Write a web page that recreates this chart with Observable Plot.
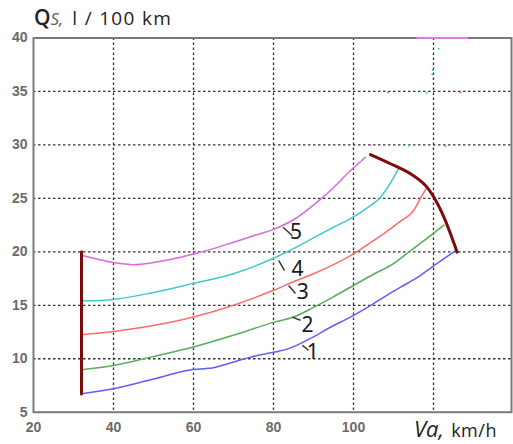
<!DOCTYPE html>
<html>
<head>
<meta charset="utf-8">
<script src="https://cdn.jsdelivr.net/npm/d3@7"></script>
<script src="https://cdn.jsdelivr.net/npm/@observablehq/plot@0.6"></script>
<style>
  html, body { margin: 0; padding: 0; background: #fff; }
  #wrap { position: relative; width: 513px; height: 444px; overflow: hidden; }
  #ytitle { position: absolute; left: 34px; top: 6px; line-height: 22px; font-family: "Open Sans", "Noto Sans", sans-serif; font-size: 19px; color: #222; white-space: nowrap; }
  #ytitle .q { font-weight: 600; font-size: 21px; }
  #ytitle .s { font-style: italic; font-size: 17px; color: #5a6070; margin-right: 9px; }
  #ytitle .u { letter-spacing: 1.3px; }
  #xtitle { position: absolute; left: 414px; top: 417px; line-height: 22px; font-family: "Open Sans", "Noto Sans", sans-serif; color: #222; white-space: nowrap; }
  #xtitle .v { font-style: italic; font-size: 22px; }
  #xtitle .k { font-size: 18px; letter-spacing: 0.5px; margin-left: 3px; }
</style>
</head>
<body>
<div id="wrap">
  <div id="chart"></div>
  <div id="ytitle"><span class="q">Q</span><span class="s">S,</span><span class="u">l / 100 km</span></div>
  <div id="xtitle"><span class="v">Va,</span> <span class="k">km/h</span></div>
</div>
<script>
// ---- data ----
const xTicks = [20, 40, 60, 80, 100];
const yTicks = [5, 10, 15, 20, 25, 30, 35, 40];
const xGrid = [40, 60, 80, 100, 120];
const yGrid = [10, 15, 20, 25, 30, 35];

const curveNames = ["1", "2", "3", "4", "5"];
const curveColors = ["#5f5ff5", "#5aac5a", "#ff6a6a", "#3ecaca", "#d96ad9"];

const s1x = [32, 40, 50, 60, 64, 70, 74.25, 80, 83.4, 89.25, 94, 99.25, 103.5, 107.5, 112, 116, 119.7, 125.5];
const s1y = [6.72, 7.19, 8.1, 9.0, 9.1, 9.7, 10.15, 10.6, 10.9, 11.9, 12.9, 13.9, 14.8, 15.75, 16.75, 17.6, 18.6, 20.1];

const s2x = [32, 40, 49.25, 60, 70, 80, 85, 90, 95, 100, 105, 110, 114.25, 118.5, 122.6];
const s2y = [8.97, 9.37, 10.15, 11.1, 12.2, 13.4, 13.9, 14.8, 15.8, 16.85, 17.9, 18.9, 20.1, 21.3, 22.5];

const s3x = [32, 40, 50, 60, 70, 80, 85, 90, 95, 100, 104, 107.6, 111.5, 115.1, 116.75, 118.4];
const s3y = [12.25, 12.55, 13.1, 13.9, 15.0, 16.4, 17.2, 17.95, 18.8, 19.8, 20.8, 21.7, 22.8, 23.9, 25.0, 26.05];

const s4x = [32, 40, 50, 60, 70, 80, 85, 90.9, 95, 99.25, 103, 106.75, 108.5, 110.1, 111.3];
const s4y = [15.4, 15.55, 16.2, 17.05, 17.95, 19.4, 20.3, 21.5, 22.3, 23.1, 24.0, 25.1, 26.0, 27.0, 27.8];

const s5x = [32.2, 36, 40, 45, 50, 55, 60, 65, 70, 75, 80, 85, 90.9, 95, 99.25, 103];
const s5y = [19.65, 19.3, 19.0, 18.8, 19.0, 19.35, 19.8, 20.3, 20.9, 21.5, 22.1, 23.0, 24.65, 26.0, 27.6, 28.85];

// boundary lines (dark red)
const limitLowX = [32, 32];
const limitLowY = [6.7, 20.0];
const limitHighX = [104.25, 109.25, 114.25, 118, 120.1, 122.6, 125.9];
const limitHighY = [29.1, 28.24, 27.3, 26.2, 25.1, 23.24, 19.97];

// magenta fragment along the top border
const topSegX = [116, 128.5];
const topSegY = [40, 40];

// stray coloured specks in the scan
const speckX = [121.3, 119.8, 119.7, 118.25, 113.8, 108.6, 126.75, 123, 127.6, 104.25];
const speckY = [39.0, 37.0, 36.6, 34.85, 29.95, 34.9, 34.9, 29.9, 25.0, 30.0];
const speckC = ["#3ecaca", "#3ecaca", "#3ecaca", "#3ecaca", "#3ecaca", "#d96ad9", "#ff6a6a", "#ff6a6a", "#5aac5a", "#d96ad9"];

// curve number labels and their leader strokes
const labelText = ["5", "4", "3", "2", "1"];
const labelX = [85.6, 86.0, 87.3, 88.5, 89.8];
const labelY = [21.85, 18.4, 16.2, 13.1, 10.6];
const leadX1 = [82.4, 81.3, 83.8, 84.7, 87.2];
const leadY1 = [22.3, 19.2, 16.85, 13.9, 11.25];
const leadX2 = [84.7, 82.75, 85.5, 86.75, 88.8];
const leadY2 = [21.5, 18.25, 16.1, 13.6, 10.8];

// ---- build tables ----
const seriesX = [s1x, s2x, s3x, s4x, s5x];
const seriesY = [s1y, s2y, s3y, s4y, s5y];
const curves = [];
seriesX.forEach((xs, i) => xs.forEach((x, j) => curves.push({name: curveNames[i], x, y: seriesY[i][j]})));
const low = limitLowX.map((x, i) => ({x, y: limitLowY[i]}));
const high = limitHighX.map((x, i) => ({x, y: limitHighY[i]}));
const topSeg = topSegX.map((x, i) => ({x, y: topSegY[i]}));
const specks = speckX.map((x, i) => ({x, y: speckY[i], c: speckC[i]}));
const labels = labelText.map((t, i) => ({t, x: labelX[i], y: labelY[i], x1: leadX1[i], y1: leadY1[i], x2: leadX2[i], y2: leadY2[i]}));

const gridStyle = {stroke: "#333", strokeOpacity: 1, strokeWidth: 1.3, strokeDasharray: "2.5,2.5"};

const chart = Plot.plot({
  width: 513,
  height: 444,
  marginLeft: 33,
  marginRight: 2,
  marginTop: 37.5,
  marginBottom: 32.3,
  x: {domain: [20, 139.5], ticks: xTicks},
  y: {domain: [5, 40], ticks: yTicks},
  color: {domain: curveNames, range: curveColors},
  style: {fontFamily: "Liberation Sans, Arial, sans-serif", fontSize: "13px", background: "#fff", overflow: "visible"},
  marks: [
    Plot.ruleX(xGrid, gridStyle),
    Plot.ruleY(yGrid, gridStyle),
    Plot.axisX(xTicks, {tickSize: 0, tickPadding: 10, label: null, fill: "#6a6a6a", fontWeight: "bold", fontSize: 14}),
    Plot.axisY(yTicks, {tickSize: 0, tickPadding: 6, label: null, fill: "#6a6a6a", fontWeight: "bold", fontSize: 14}),
    Plot.line(curves, {x: "x", y: "y", z: "name", stroke: "name", strokeWidth: 1.5, curve: "monotone-x"}),
    Plot.dot(specks, {x: "x", y: "y", fill: "c", r: 1, stroke: null}),
    Plot.line(low, {x: "x", y: "y", stroke: "#7a0c0c", strokeWidth: 3}),
    Plot.line(high, {x: "x", y: "y", stroke: "#7a0c0c", strokeWidth: 3, curve: "catmull-rom"}),
    Plot.link(labels, {x1: "x1", y1: "y1", x2: "x2", y2: "y2", stroke: "#333", strokeWidth: 1.4}),
    Plot.text(labels, {x: "x", y: "y", text: "t", fill: "#1a1a1a", fontSize: 21, fontFamily: "Noto Sans, sans-serif"}),
    Plot.frame({stroke: "#7a7a7a", strokeWidth: 2}),
    Plot.line(topSeg, {x: "x", y: "y", stroke: "#e07ae0", strokeWidth: 2})
  ]
});
document.getElementById("chart").appendChild(chart);
</script>
</body>
</html>
